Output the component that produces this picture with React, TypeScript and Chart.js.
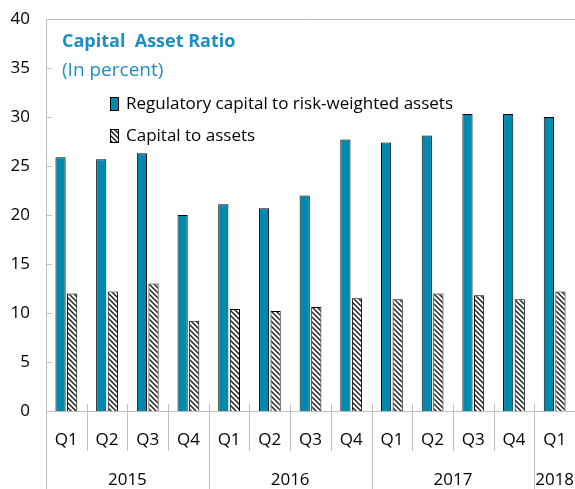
import React, { useEffect, useRef } from 'react';
import { Chart, registerables } from 'chart.js';

Chart.register(...registerables);

const quarters = ['Q1', 'Q2', 'Q3', 'Q4', 'Q1', 'Q2', 'Q3', 'Q4', 'Q1', 'Q2', 'Q3', 'Q4', 'Q1'];
const years = ['2015', '2016', '2017', '2018'];
const yearSpans = [4, 4, 4, 1];
const regCapital = [25.9, 25.7, 26.3, 20.0, 21.1, 20.7, 22.0, 27.7, 27.4, 28.1, 30.3, 30.3, 30.0];
const capitalToAssets = [12.0, 12.2, 13.0, 9.2, 10.4, 10.2, 10.6, 11.5, 11.4, 12.0, 11.8, 11.4, 12.2];
const seriesNames = ['Regulatory capital to risk-weighted assets', 'Capital to assets'];
const titleText = 'Capital  Asset Ratio';
const subtitleText = '(In percent)';

const FONT = '"Open Sans", "Noto Sans", sans-serif';
const BLUE = '#0088ad';
const TITLE_BLUE = '#1b8fc3';
const AXIS_GRAY = '#bfbfbf';

function makeHatch(): CanvasPattern | string {
  const n = 5;
  const c = document.createElement('canvas');
  c.width = n;
  c.height = n;
  const g = c.getContext('2d');
  if (!g) return '#ffffff';
  g.fillStyle = '#ffffff';
  g.fillRect(0, 0, n, n);
  g.strokeStyle = '#222222';
  g.lineWidth = 1.5;
  g.beginPath();
  g.moveTo(-1, -1);
  g.lineTo(n + 1, n + 1);
  g.moveTo(-1, n - 1);
  g.lineTo(1, n + 1);
  g.moveTo(n - 1, -1);
  g.lineTo(n + 1, 1);
  g.stroke();
  const p = g.createPattern(c, 'repeat');
  return p || '#ffffff';
}

export default function App() {
  const ref = useRef<HTMLCanvasElement | null>(null);

  useEffect(() => {
    const canvas = ref.current;
    if (!canvas) return;
    const hatch = makeHatch();

    const decor = {
      id: 'decor',
      afterDraw(chart: any) {
        const ctx = chart.ctx as CanvasRenderingContext2D;
        const area = chart.chartArea;
        const x = chart.scales.x;
        const y = chart.scales.y;
        ctx.save();
        // frame top line
        ctx.strokeStyle = AXIS_GRAY;
        ctx.lineWidth = 1;
        ctx.beginPath();
        ctx.moveTo(area.left, Math.round(area.top) + 0.5);
        ctx.lineTo(area.right, Math.round(area.top) + 0.5);
        ctx.stroke();
        // y inward ticks
        ctx.beginPath();
        for (let v = 0; v <= 40; v += 5) {
          const py = Math.round(y.getPixelForValue(v)) + 0.5;
          ctx.moveTo(area.left, py);
          ctx.lineTo(area.left + 6, py);
        }
        ctx.stroke();
        // x separators
        const half = (x.getPixelForValue(1) - x.getPixelForValue(0)) / 2;
        const boundaries = new Set<number>();
        let acc = 0;
        boundaries.add(0);
        yearSpans.forEach((s) => {
          acc += s;
          boundaries.add(acc);
        });
        ctx.beginPath();
        for (let i = 0; i <= quarters.length; i++) {
          const px = Math.round(x.getPixelForValue(i) - half) + 0.5;
          const bottom = boundaries.has(i) ? chart.height : area.bottom + 40;
          ctx.moveTo(px, area.bottom - 7);
          ctx.lineTo(px, bottom);
        }
        ctx.stroke();
        // year labels
        ctx.fillStyle = '#000000';
        ctx.font = `17px ${FONT}`;
        ctx.textAlign = 'center';
        ctx.textBaseline = 'middle';
        let start = 0;
        years.forEach((yr, i) => {
          const end = start + yearSpans[i] - 1;
          const cx = (x.getPixelForValue(start) + x.getPixelForValue(end)) / 2;
          ctx.fillText(yr, cx, area.bottom + 69);
          start += yearSpans[i];
        });
        // title
        ctx.textAlign = 'left';
        ctx.fillStyle = TITLE_BLUE;
        ctx.font = `bold 18px ${FONT}`;
        ctx.fillText(titleText, area.left + 16, 42);
        ctx.font = `19px ${FONT}`;
        ctx.fillText(subtitleText, area.left + 16, 71);
        // legend
        const items = [
          { name: seriesNames[0], fill: BLUE as any, cy: 104 },
          { name: seriesNames[1], fill: hatch as any, cy: 136 },
        ];
        items.forEach((it) => {
          ctx.fillStyle = it.fill;
          ctx.fillRect(111, it.cy - 6, 7, 12);
          ctx.strokeStyle = '#000000';
          ctx.lineWidth = 1;
          ctx.strokeRect(110.5, it.cy - 6.5, 8, 13);
          ctx.fillStyle = '#000000';
          ctx.font = `17px ${FONT}`;
          ctx.fillText(it.name, 126, it.cy);
        });
        ctx.restore();
      },
    };

    const chart = new Chart(canvas, {
      type: 'bar',
      data: {
        labels: quarters,
        datasets: [
          {
            label: seriesNames[0],
            data: regCapital,
            backgroundColor: BLUE,
            borderColor: '#000000',
            borderWidth: 1,
            barPercentage: 0.88,
            categoryPercentage: 0.57,
          },
          {
            label: seriesNames[1],
            data: capitalToAssets,
            backgroundColor: hatch as any,
            borderColor: '#000000',
            borderWidth: 1,
            barPercentage: 0.88,
            categoryPercentage: 0.57,
          },
        ],
      },
      options: {
        animation: false,
        responsive: false,
        maintainAspectRatio: false,
        layout: { padding: { top: 19, right: 0, left: 0, bottom: 0 } },
        plugins: {
          legend: { display: false },
          title: { display: false },
          tooltip: { enabled: false },
        },
        scales: {
          x: {
            type: 'category',
            offset: true,
            grid: { display: false, drawTicks: false },
            border: { display: true, color: AXIS_GRAY, width: 1 },
            ticks: {
              color: '#000000',
              font: { family: FONT, size: 17 },
              padding: 19,
              maxRotation: 0,
              autoSkip: false,
            },
            afterFit(scale: any) {
              scale.height = 78;
              scale.paddingLeft = 0;
              scale.paddingRight = 0;
            },
          },
          y: {
            type: 'linear',
            min: 0,
            max: 40,
            grid: { display: false, drawTicks: false },
            border: { display: true, color: AXIS_GRAY, width: 1 },
            ticks: {
              stepSize: 5,
              color: '#000000',
              font: { family: FONT, size: 17 },
              padding: 16,
            },
            afterFit(scale: any) {
              scale.width = 46;
              scale.paddingTop = 0;
              scale.paddingBottom = 0;
            },
          },
        },
      },
      plugins: [decor],
    });

    return () => {
      chart.destroy();
    };
  }, []);

  return (
    <div style={{ position: 'fixed', left: 0, top: 0, width: 575, height: 489, background: '#ffffff' }}>
      <canvas ref={ref} width={575} height={489} style={{ width: 575, height: 489, display: 'block' }} />
    </div>
  );
}
